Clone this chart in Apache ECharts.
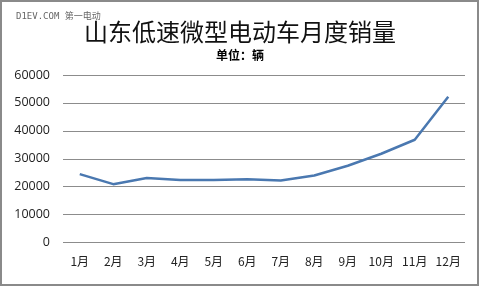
<!DOCTYPE html>
<html><head><meta charset="utf-8">
<script src="https://cdn.jsdelivr.net/npm/echarts@6/dist/echarts.min.js"></script>
<style>html,body{margin:0;padding:0;background:#fff}#c{width:480px;height:287px}</style>
</head><body><div id="c"></div>
<script>
var categories = ['1月','2月','3月','4月','5月','6月','7月','8月','9月','10月','11月','12月'];
var sales = [24500, 20900, 23100, 22400, 22400, 22700, 22200, 24000, 27500, 31800, 36800, 52200];
var yTicks = {min: 0, max: 60000, interval: 10000};
var titleText = '山东低速微型电动车月度销量';
var subText = '单位：辆';
var watermark = 'D1EV.COM 第一电动';

var chart = echarts.init(document.getElementById('c'), null, {renderer: 'canvas'});
chart.setOption({
  animation: false,
  backgroundColor: '#fff',
  title: [
    {text: titleText, left: 'center', top: 15, textStyle: {fontFamily: 'Noto Sans CJK SC', fontSize: 24, fontWeight: 'normal', color: '#111'}},
    {text: subText, left: 'center', top: 44, textStyle: {fontFamily: 'Noto Sans CJK SC', fontSize: 12, fontWeight: 'bold', color: '#000'}},
    {text: watermark, left: 11, top: 7, textStyle: {fontFamily: '"DejaVu Sans Mono", "Noto Sans CJK SC"', fontSize: 9, fontWeight: 'normal', color: '#666'}}
  ],
  graphic: [{type: 'rect', shape: {x: 1, y: 1, width: 477, height: 284}, style: {fill: null, stroke: '#8a8a8a', lineWidth: 2}, silent: true}],
  grid: {left: 63, right: 15, top: 75, bottom: 44.5},
  xAxis: {
    type: 'category', data: categories, boundaryGap: true,
    axisLine: {show: false}, axisTick: {show: false},
    axisLabel: {color: '#222', fontSize: 12, fontFamily: 'Noto Sans CJK SC', margin: 13, interval: 0}
  },
  yAxis: {
    type: 'value', min: yTicks.min, max: yTicks.max, interval: yTicks.interval,
    axisLine: {show: false}, axisTick: {show: false},
    axisLabel: {color: '#222', fontSize: 12.5, fontFamily: 'Open Sans', margin: 13, formatter: function (v) { return String(v); }},
    splitLine: {lineStyle: {color: '#8c8c8c', width: 1}}
  },
  series: [{
    type: 'line', data: sales, symbol: 'none',
    lineStyle: {color: '#4a78b0', width: 2.5}
  }]
});
</script></body></html>
